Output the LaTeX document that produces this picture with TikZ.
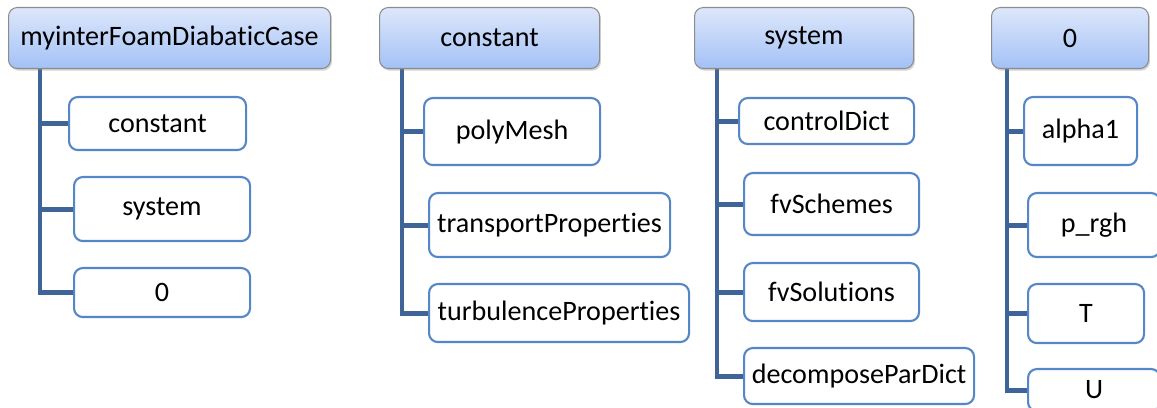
\documentclass[tikz,border=0pt]{standalone}
\usepackage{fontspec}
\setmainfont[Ligatures=NoCommon]{Carlito}
\usetikzlibrary{shadows,backgrounds}

\definecolor{headtop}{RGB}{221,231,251}
\definecolor{headbot}{RGB}{163,193,246}
\definecolor{headline}{RGB}{140,140,140}
\definecolor{leafline}{RGB}{84,134,200}
\definecolor{trunkblue}{RGB}{63,101,152}

\tikzset{
  head/.style={draw=headline, line width=0.6pt, rounded corners=5pt,
    top color=headtop, bottom color=headbot, anchor=north west, inner sep=0pt,
    drop shadow={shadow xshift=0.8pt, shadow yshift=-1.2pt, opacity=0.35}},
  leaf/.style={draw=leafline, line width=1.2pt, fill=white, rounded corners=5pt,
    anchor=north west, inner sep=0pt},
  sz/.style 2 args={minimum width=#1*0.02cm, minimum height=#2*0.02cm},
  trunk/.style={draw=trunkblue, line width=2.8pt, line cap=rect}
}

\begin{document}
\begin{tikzpicture}[x=0.02cm,y=-0.02cm,font=\fontsize{16}{19}\selectfont]
\useasboundingbox (0,0) rectangle (1157,408);
%
\node[head, sz={322}{61}] (hdcase) at (8,7) {myinterFoamDiabaticCase};
\node[leaf, sz={177}{53}] (caseconst) at (68,96) {constant};
\node[leaf, sz={176}{64}] (casesys) at (73,176) {system};
\node[leaf, sz={176}{49}] (casezero) at (73,267) {0};
%
\node[head, sz={220}{61}] (hdconst) at (379,7) {constant};
\node[leaf, sz={176}{67}] (polymesh) at (423,97) {polyMesh};
\node[leaf, sz={241}{64}] (transport) at (428,192) {transportProperties};
\node[leaf, sz={260}{58}] (turbulence) at (428,283) {turbulenceProperties};
%
\node[head, sz={219}{61}] (hdsys) at (694,7) {system};
\node[leaf, sz={175}{46}] (control) at (738,97) {controlDict};
\node[leaf, sz={175}{62}] (schemes) at (743,172) {fvSchemes};
\node[leaf, sz={175}{58}] (solutions) at (743,262) {fvSolutions};
\node[leaf, sz={230}{56}] (decompose) at (743,347) {decomposeParDict};
%
\node[head, sz={157}{61}] (hdzero) at (991,7) {0};
\node[leaf, sz={113}{68}] (alpha) at (1023,96) {alpha1};
\node[leaf, sz={132}{64}] (prgh) at (1027,192) {p\_rgh};
\node[leaf, sz={116}{59}] (temp) at (1027,283) {T};
\node[leaf, sz={132}{42}] (vel) at (1027,368) {U};
%
\coordinate (tcase) at (40,68);
\coordinate (tconst) at (402,68);
\coordinate (tsys) at (717,68);
\coordinate (tzero) at (1007,68);
%
\begin{pgfonlayer}{background}
\foreach \t/\c in {tcase/caseconst, tcase/casesys, tcase/casezero,
    tconst/polymesh, tconst/transport, tconst/turbulence,
    tsys/control, tsys/schemes, tsys/solutions, tsys/decompose,
    tzero/alpha, tzero/prgh, tzero/temp, tzero/vel}
  \draw[trunk] (\t) |- (\c.west);
\end{pgfonlayer}
\end{tikzpicture}
\end{document}
